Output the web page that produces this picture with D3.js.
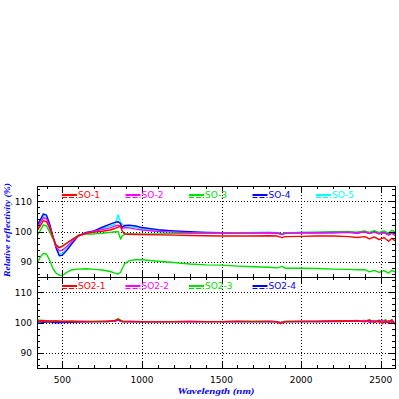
<!DOCTYPE html>
<html>
<head>
<meta charset="utf-8">
<script src="https://cdn.jsdelivr.net/npm/d3@7"></script>
<style>
body { margin: 0; background: #fff; }
svg { display: block; }
</style>
</head>
<body>
<svg id="vis" width="399" height="399"></svg>
<script>
// ---- data ----
var wlTop = [340, 360, 380, 400, 420, 440, 460, 480, 500, 530, 560, 600, 650, 700, 750, 800, 830, 850, 865, 875,
	890, 920, 960, 1000, 1100, 1200, 1300, 1400, 1500, 1600, 1700, 1800, 1850, 1880, 1900, 2000, 2100, 2200, 2300,
	2350, 2400, 2430, 2460, 2490, 2520, 2550, 2570, 2590];

var so1 = [100.2, 101.8, 103.6, 103.2, 101.0, 98.2, 95.5, 94.6, 95.2, 96.3, 97.3, 98.6, 99.4, 99.8, 100.1, 100.5, 101.0, 101.4, 102.0, 100.2,
	99.2, 99.1, 99.0, 99.0, 98.9, 98.8, 98.7, 98.6, 98.5, 98.5, 98.5, 98.6, 98.5, 98.0, 98.3, 98.4, 98.5, 98.5, 98.3,
	98.0, 98.3, 97.6, 98.2, 97.3, 98.0, 96.8, 97.8, 96.9];
var so2 = [100.8, 102.8, 104.6, 104.2, 101.6, 98.3, 95.0, 93.6, 93.8, 95.2, 96.7, 98.5, 99.5, 100.1, 100.6, 101.2, 101.8, 102.1, 101.5, 101.0,
	101.3, 101.2, 100.8, 100.5, 100.0, 99.8, 99.6, 99.5, 99.4, 99.4, 99.5, 99.6, 99.5, 99.0, 99.4, 99.6, 99.6, 99.7, 99.8,
	99.5, 99.9, 99.3, 99.8, 99.2, 99.6, 98.8, 99.5, 98.6];
var so3 = [98.6, 100.3, 102.2, 101.8, 99.8, 97.6, 95.5, 94.8, 95.2, 96.2, 97.3, 98.8, 99.2, 99.2, 99.4, 99.7, 99.9, 100.0, 97.5, 98.5,
	99.1, 99.2, 99.2, 99.1, 99.2, 99.3, 99.4, 99.4, 99.5, 99.6, 99.6, 99.7, 99.6, 99.2, 99.5, 99.7, 99.8, 99.9, 100.0,
	99.8, 100.2, 99.7, 100.3, 99.6, 100.2, 99.4, 100.4, 99.8];
var so3low = [89.3, 91.5, 92.8, 92.5, 90.5, 87.8, 86.3, 85.6, 85.5, 86.6, 87.4, 87.6, 87.7, 87.5, 87.3, 86.8, 86.3, 86.0, 86.5, 87.7,
	89.3, 90.4, 90.7, 90.7, 90.2, 89.8, 89.3, 89.0, 88.9, 88.6, 88.4, 88.2, 88.0, 88.5, 87.9, 87.9, 87.8, 87.6, 87.5,
	87.4, 87.4, 86.7, 87.2, 86.5, 87.1, 86.3, 87.2, 86.6];
var so4 = [101.9, 103.8, 105.8, 105.4, 102.4, 98.4, 94.6, 92.0, 92.2, 94.0, 96.0, 98.6, 99.7, 100.2, 101.4, 102.4, 103.0, 103.2, 102.6, 101.2,
	102.0, 102.1, 101.8, 101.3, 100.6, 100.2, 99.9, 99.7, 99.6, 99.6, 99.6, 99.6, 99.5, 99.1, 99.5, 99.6, 99.6, 99.6, 99.7,
	99.5, 99.9, 99.4, 100.0, 99.3, 99.8, 99.0, 99.6, 99.2];
var so5 = [101.4, 103.4, 105.3, 105.0, 102.0, 98.3, 94.8, 92.6, 92.8, 94.6, 96.4, 98.6, 99.6, 100.2, 101.0, 101.8, 102.3, 105.5, 103.0, 102.5,
	101.6, 101.6, 101.3, 100.9, 100.4, 100.1, 99.8, 99.7, 99.6, 99.6, 99.7, 99.7, 99.6, 99.2, 99.6, 99.7, 99.7, 99.8, 99.8,
	99.6, 100.0, 99.5, 100.1, 99.4, 99.9, 99.1, 99.7, 99.3];

var wlBottom = [340, 380, 420, 460, 500, 560, 620, 700, 780, 830, 850, 865, 880, 920, 1000, 1100, 1200, 1300, 1400, 1500,
	1600, 1700, 1800, 1850, 1870, 1885, 1900, 2000, 2100, 2200, 2250, 2300, 2350, 2400, 2430, 2460, 2490, 2510, 2530,
	2550, 2570, 2590];

var so2_1 = [100.5, 100.6, 100.4, 100.5, 100.3, 100.4, 100.3, 100.3, 100.3, 100.6, 101.0, 100.6, 100.3, 100.3, 100.3, 100.2, 100.3, 100.3, 100.3, 100.3,
	100.3, 100.3, 100.3, 100.2, 99.6, 100.0, 100.3, 100.3, 100.3, 100.4, 100.5, 100.4, 100.6, 100.2, 100.8, 100.0, 100.7, 99.6, 100.6,
	99.8, 100.9, 99.5];
var so2_2 = [100.4, 100.5, 100.4, 100.3, 100.4, 100.3, 100.4, 100.3, 100.4, 100.5, 100.9, 100.5, 100.3, 100.4, 100.3, 100.3, 100.3, 100.4, 100.3, 100.3,
	100.4, 100.3, 100.4, 100.3, 99.9, 100.1, 100.3, 100.4, 100.4, 100.5, 100.4, 100.6, 100.4, 100.7, 100.2, 100.6, 100.1, 100.8, 100.0,
	100.6, 100.2, 99.8];
var so2_3 = [100.8, 100.7, 100.5, 100.5, 100.4, 100.4, 100.3, 100.4, 100.4, 100.7, 101.3, 100.8, 100.4, 100.3, 100.3, 100.3, 100.3, 100.3, 100.3, 100.3,
	100.4, 100.4, 100.4, 100.3, 100.0, 100.2, 100.4, 100.4, 100.4, 100.5, 100.6, 100.5, 100.7, 100.4, 100.9, 100.2, 100.8, 100.0, 101.0,
	100.1, 100.9, 99.4];
var so2_4 = [100.2, 100.1, 100.2, 99.9, 100.0, 100.1, 100.2, 100.3, 100.3, 100.5, 100.8, 100.5, 100.3, 100.3, 100.2, 100.3, 100.3, 100.3, 100.3, 100.3,
	100.3, 100.3, 100.3, 100.3, 99.9, 100.1, 100.3, 100.3, 100.3, 100.4, 100.3, 100.5, 100.4, 100.6, 100.1, 100.5, 100.2, 100.6, 99.9,
	100.4, 100.1, 99.8];

var xTicks = [500, 1000, 1500, 2000, 2500];
var yTicks = [90, 100, 110];

// series: name, colour, values (null name = no legend entry)
var topSeries = [
	{name: "SO-1", color: "#ff0000", values: so1},
	{name: "SO-2", color: "#ff00ff", values: so2},
	{name: "SO-3", color: "#00e000", values: so3},
	{name: null,   color: "#00e000", values: so3low},
	{name: "SO-4", color: "#0000ff", values: so4},
	{name: "SO-5", color: "#00ffff", values: so5}
];
var bottomSeries = [
	{name: "SO2-1", color: "#ff0000", values: so2_1},
	{name: "SO2-2", color: "#ff00ff", values: so2_2},
	{name: "SO2-3", color: "#00e000", values: so2_3},
	{name: "SO2-4", color: "#0000ff", values: so2_4}
];

// ---- layout ----
var PLOT_X0 = 37, PLOT_X1 = 395;
var PANEL_H = 91;
var TOP_Y = 186;
var LEGEND_X = 62, LEGEND_STEP = 63.5, LEGEND_LINE = 15;
var FONT = "DejaVu Sans, sans-serif";

var svg = d3.select("#vis");

var x = d3.scaleLinear().domain([340, 2590]).range([PLOT_X0, PLOT_X1]);

function drawPanel(y0, wl, series, drawBottomLabels)
{
	var y = d3.scaleLinear().domain([85, 115]).range([y0 + PANEL_H, y0]);
	var g = svg.append("g");

	var clipId = "clip" + y0;
	g.append("clipPath").attr("id", clipId)
		.append("rect")
		.attr("x", PLOT_X0).attr("y", y0)
		.attr("width", PLOT_X1 - PLOT_X0).attr("height", PANEL_H);

	// dotted grid
	g.selectAll(".vgrid").data(xTicks).enter().append("line")
		.attr("x1", function(d) { return Math.round(x(d)) + 0.5; })
		.attr("x2", function(d) { return Math.round(x(d)) + 0.5; })
		.attr("y1", y0).attr("y2", y0 + PANEL_H)
		.attr("stroke", "#000").attr("stroke-dasharray", "1,2");
	g.selectAll(".hgrid").data(yTicks).enter().append("line")
		.attr("x1", PLOT_X0).attr("x2", PLOT_X1)
		.attr("y1", function(d) { return Math.round(y(d)) + 0.5; })
		.attr("y2", function(d) { return Math.round(y(d)) + 0.5; })
		.attr("stroke", "#000").attr("stroke-dasharray", "1,2");

	// curves, first series drawn last so it sits on top
	var line = d3.line()
		.x(function(d, i) { return x(wl[i]); })
		.y(function(d) { return y(d); });
	var curves = g.append("g").attr("clip-path", "url(#" + clipId + ")");
	series.slice().reverse().forEach(function(s) {
		curves.append("path")
			.attr("d", line(s.values))
			.attr("fill", "none")
			.attr("stroke", s.color)
			.attr("stroke-width", 1.4)
			.attr("stroke-linejoin", "round");
	});

	// frame
	g.append("rect")
		.attr("x", PLOT_X0 + 0.5).attr("y", y0 + 0.5)
		.attr("width", PLOT_X1 - PLOT_X0).attr("height", PANEL_H)
		.attr("fill", "none").attr("stroke", "#000");

	// x ticks on top and bottom edges, inward
	var xMinor = d3.range(400, 2600, 100);
	xMinor.forEach(function(v) {
		var len = (v % 500 == 0) ? 6 : 3;
		var px = Math.round(x(v)) + 0.5;
		g.append("line").attr("x1", px).attr("x2", px)
			.attr("y1", y0 + PANEL_H).attr("y2", y0 + PANEL_H - len).attr("stroke", "#000");
		g.append("line").attr("x1", px).attr("x2", px)
			.attr("y1", y0).attr("y2", y0 + len).attr("stroke", "#000");
	});

	// y ticks on left and right edges, inward
	d3.range(86, 115, 2).forEach(function(v) {
		var len = (v % 10 == 0) ? 6 : 3;
		var py = Math.round(y(v)) + 0.5;
		g.append("line").attr("x1", PLOT_X0).attr("x2", PLOT_X0 + len)
			.attr("y1", py).attr("y2", py).attr("stroke", "#000");
		g.append("line").attr("x1", PLOT_X1).attr("x2", PLOT_X1 - len)
			.attr("y1", py).attr("y2", py).attr("stroke", "#000");
	});

	// y tick labels
	g.selectAll(".ylab").data(yTicks).enter().append("text")
		.attr("x", 32).attr("y", function(d) { return y(d) + 3.5; })
		.attr("text-anchor", "end")
		.attr("font-family", FONT).attr("font-size", 9)
		.text(function(d) { return d; });

	if (drawBottomLabels)
	{
		g.selectAll(".xlab").data(xTicks).enter().append("text")
			.attr("x", function(d) { return x(d); })
			.attr("y", y0 + PANEL_H + 15)
			.attr("text-anchor", "middle")
			.attr("font-family", FONT).attr("font-size", 9)
			.text(function(d) { return d; });
	}

	// legend: solid + dashed sample line, then label
	var named = series.filter(function(s) { return s.name; });
	named.forEach(function(s, i) {
		var lx = LEGEND_X + i * LEGEND_STEP;
		var ly = y0 + 9;
		g.append("line").attr("x1", lx).attr("x2", lx + LEGEND_LINE)
			.attr("y1", ly).attr("y2", ly)
			.attr("stroke", s.color).attr("stroke-width", 2);
		g.append("line").attr("x1", lx).attr("x2", lx + LEGEND_LINE)
			.attr("y1", ly + 2.5).attr("y2", ly + 2.5)
			.attr("stroke", s.color).attr("stroke-width", 1)
			.attr("stroke-dasharray", "5,2");
		g.append("text")
			.attr("x", lx + LEGEND_LINE + 1).attr("y", ly + 3)
			.attr("font-family", FONT).attr("font-size", 9)
			.attr("fill", s.color)
			.text(s.name);
	});
}

drawPanel(TOP_Y, wlTop, topSeries, false);
drawPanel(TOP_Y + PANEL_H, wlBottom, bottomSeries, true);

// axis titles
svg.append("text")
	.attr("transform", "translate(10," + 230 + ") rotate(-90)")
	.attr("text-anchor", "middle")
	.attr("font-family", "Liberation Serif, serif")
	.attr("font-style", "italic").attr("font-weight", "bold")
	.attr("font-size", 9).attr("fill", "#0000ff")
	.attr("textLength", 94).attr("lengthAdjust", "spacingAndGlyphs")
	.text("Relative reflectivity (%)");

svg.append("text")
	.attr("x", 216).attr("y", 394)
	.attr("text-anchor", "middle")
	.attr("font-family", "Liberation Serif, serif")
	.attr("font-style", "italic").attr("font-weight", "bold")
	.attr("font-size", 9).attr("fill", "#0000ff")
	.attr("textLength", 77).attr("lengthAdjust", "spacingAndGlyphs")
	.text("Wavelength (nm)");
</script>
</body>
</html>
